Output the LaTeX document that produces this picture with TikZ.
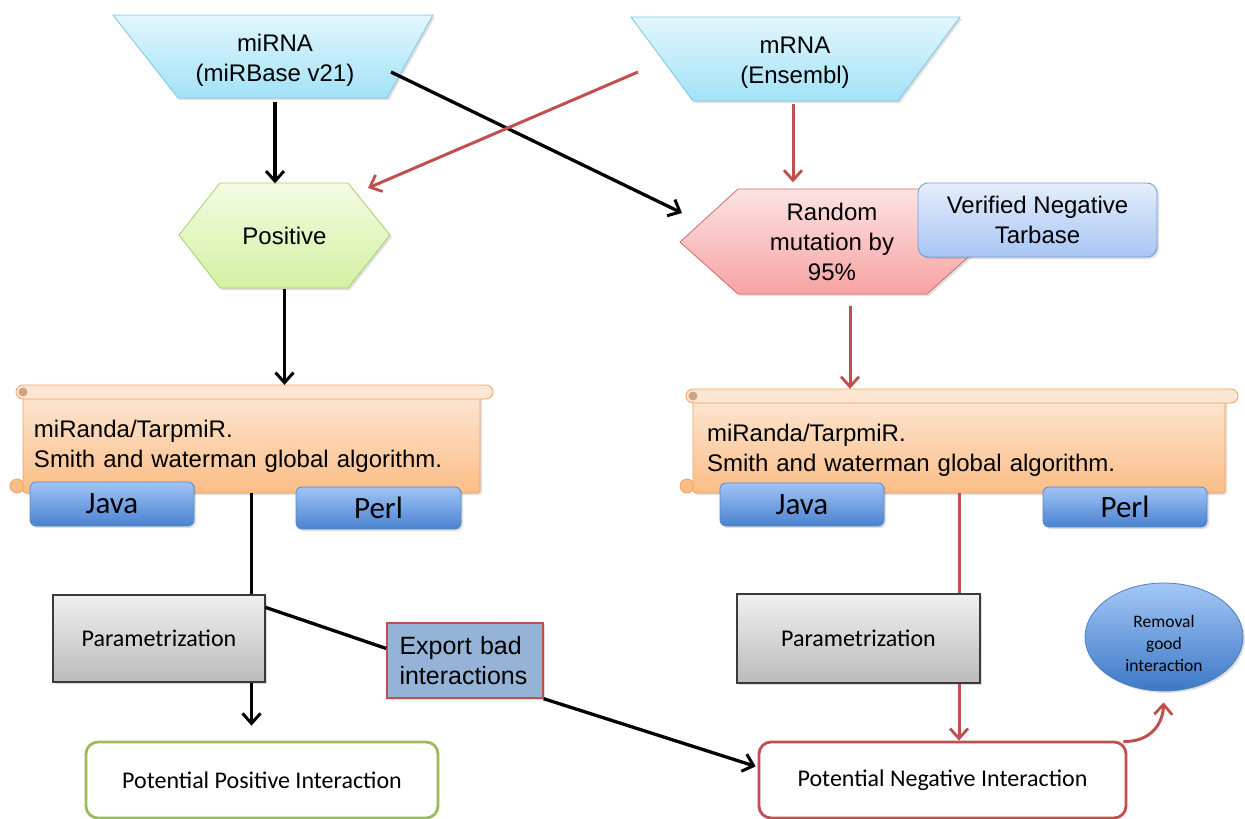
\documentclass[tikz,border=0pt]{standalone}
\usepackage{fontspec}
\setmainfont{Liberation Sans}
\newfontfamily\calfont{Carlito}
\usetikzlibrary{arrows.meta,shadows,calc,backgrounds,shapes.geometric}

\definecolor{redc}{HTML}{C0504D}
\definecolor{cyanT}{HTML}{E2F6FD}\definecolor{cyanB}{HTML}{A2E2F7}\definecolor{cyanD}{HTML}{7CC6DE}
\definecolor{grnT}{HTML}{F3FBE2}\definecolor{grnB}{HTML}{D3F1A2}\definecolor{grnD}{HTML}{A6CF6C}
\definecolor{pnkT}{HTML}{FDE3E3}\definecolor{pnkB}{HTML}{F7A3A3}\definecolor{pnkD}{HTML}{D06B6B}
\definecolor{verT}{HTML}{E5EEFC}\definecolor{verB}{HTML}{A7C5F4}\definecolor{verD}{HTML}{7099D6}
\definecolor{orT}{HTML}{FDE7D4}\definecolor{orB}{HTML}{FBBD86}\definecolor{orD}{HTML}{F2A05A}
\definecolor{jvT}{HTML}{A0C4F7}\definecolor{jvB}{HTML}{4A82CF}\definecolor{jvD}{HTML}{5A87C5}
\definecolor{prT}{HTML}{F0F0F0}\definecolor{prB}{HTML}{BBBBBB}\definecolor{prD}{HTML}{3A3A3A}
\definecolor{rmT}{HTML}{A4C8F6}\definecolor{rmB}{HTML}{3C78C6}\definecolor{rmD}{HTML}{4E7FBF}
\definecolor{expF}{HTML}{95B3D7}
\definecolor{posD}{HTML}{9BBB59}

\begin{document}
\begin{tikzpicture}[x=1pt,y=-1pt,
  lbl/.style={inner sep=0pt, align=center, font=\fontsize{24}{30}\selectfont},
  shade/.style={drop shadow={shadow xshift=2pt,shadow yshift=-2pt,opacity=0.25}},
  blk/.style={line width=3.3pt, black, -{Straight Barb[length=10pt,width=18pt,line width=3pt]}},
  blkline/.style={line width=3.3pt, black},
  red/.style={line width=3pt, redc, -{Straight Barb[length=10pt,width=18pt,line width=2.8pt]}},
  redline/.style={line width=3pt, redc},
  langbox/.style={draw=jvD, line width=0.8pt, rounded corners=6pt, top color=jvT, bottom color=jvB,
    shade, inner sep=0pt, font=\calfont\fontsize{31}{32}\selectfont},
  parbox/.style={draw=prD, line width=1.2pt, top color=prT, bottom color=prB, shade, inner sep=0pt,
    font=\calfont\fontsize{24}{28}\selectfont},
  resbox/.style={fill=white, line width=2.8pt, rounded corners=12pt, inner sep=0pt,
    font=\calfont\fontsize{24}{28}\selectfont, minimum height=76pt},
  scrolltext/.style={inner sep=0pt, align=left, font=\fontsize{24}{30}\selectfont}
]
\useasboundingbox (0,0) rectangle (1245,819);

% ---- input databases (trapezoids) ----
\path[draw=cyanD, line width=0.8pt, top color=cyanT, bottom color=cyanB, shade]
  (113,15) -- (433,15) -- (387,98) -- (178,98) -- cycle;
\node[lbl, minimum width=320pt, minimum height=83pt] (mirna) at (275,60) {miRNA\\(miRBase v21)};

\path[draw=cyanD, line width=0.8pt, top color=cyanT, bottom color=cyanB, shade]
  (631,17) -- (960,17) -- (898,101) -- (693,101) -- cycle;
\node[lbl, minimum width=329pt, minimum height=82pt] (mrna) at (795,63) {mRNA\\(Ensembl)};

% ---- positive set (hexagon) ----
\path[draw=grnD, line width=0.8pt, top color=grnT, bottom color=grnB, shade]
  (179,235) -- (220,183) -- (348,183) -- (390,235) -- (348,288) -- (220,288) -- cycle;
\node[lbl, minimum width=211pt, minimum height=105pt] (pos) at (284.5,236) {Positive};

% ---- negative set (hexagon) and Tarbase ----
\path[draw=pnkD, line width=0.8pt, top color=pnkT, bottom color=pnkB, shade]
  (680,242) -- (738,189) -- (927,189) -- (985,242) -- (927,294) -- (738,294) -- cycle;
\node[lbl, minimum width=305pt, minimum height=105pt] (rnd) at (832,242) {Random\\mutation by\\95\%};

\node[lbl, draw=verD, line width=0.8pt, rounded corners=10pt, top color=verT, bottom color=verB, shade,
  minimum width=239pt, minimum height=74pt] (ver) at (1037.5,220) {Verified Negative\\Tarbase};

% ---- alignment tools (scrolls) ----
% left scroll
\draw[orD, line width=0.8pt, fill=orB] (17,486) circle (7pt);
\path[draw=orD, line width=0.8pt, top color=orT, bottom color=orB, shade, rounded corners=3pt]
  (23,392) rectangle (480,493);
\draw[orD, line width=0.8pt, fill=orT, rounded corners=7pt] (16,385) rectangle (493,399);
\fill[orB!60!gray] (23,392) circle (4.5pt);
\fill[orB] (17,486) circle (4pt);
\node[inner sep=0pt, minimum width=457pt, minimum height=108pt] (scrollL) at (251.5,439) {};
\node[scrolltext, text width=435pt] (scrollLtxt) at (251.5,446)
  {miRanda/TarpmiR.\\Smith and waterman global algorithm.};

% right scroll
\draw[orD, line width=0.8pt, fill=orB] (687,486) circle (7pt);
\path[draw=orD, line width=0.8pt, top color=orT, bottom color=orB, shade, rounded corners=3pt]
  (693,396) rectangle (1225,493);
\draw[orD, line width=0.8pt, fill=orT, rounded corners=7pt] (686,389) rectangle (1238,403);
\fill[orB!60!gray] (693,396) circle (4.5pt);
\fill[orB] (687,486) circle (4pt);
\node[inner sep=0pt, minimum width=532pt, minimum height=104pt] (scrollR) at (959,441) {};
\node[scrolltext, text width=504pt] (scrollRtxt) at (959,450)
  {miRanda/TarpmiR.\\Smith and waterman global algorithm.};

% languages
\node[langbox, minimum width=164pt, minimum height=44pt] (javaL) at (112,504) {Java};
\node[langbox, minimum width=165pt, minimum height=42pt] (perlL) at (378.5,508) {Perl};
\node[langbox, minimum width=164pt, minimum height=43pt] (javaR) at (802,504.5) {Java};
\node[langbox, minimum width=164pt, minimum height=40pt] (perlR) at (1125,507) {Perl};

% ---- parametrization ----
\node[parbox, minimum width=212pt, minimum height=87pt] (paramL) at (159,638.5) {Parametrization};
\node[parbox, minimum width=243pt, minimum height=89pt] (paramR) at (858.5,638.5) {Parametrization};

\node[draw=redc, fill=expF, line width=1.4pt, shade, minimum width=156pt, minimum height=75pt,
  text width=131pt, align=left, inner sep=0pt, font=\fontsize{25}{30}\selectfont] (exp) at (465,660.5)
  {Export bad\\interactions};

% ---- results ----
\node[resbox, draw=posD, minimum width=352pt] (potpos) at (262,780) {Potential Positive Interaction};
\node[resbox, draw=redc, minimum width=367pt] (potneg) at (942.5,780) {Potential Negative Interaction};

\node[ellipse, draw=rmD, line width=0.8pt, top color=rmT, bottom color=rmB, shade,
  minimum width=158pt, minimum height=108pt, inner sep=0pt] (removal) at (1164,637) {};
\node[inner sep=0pt, align=center, font=\calfont\fontsize{17.5}{22}\selectfont] (removaltxt)
  at (1164,643) {Removal\\good\\interaction};

% ---- connectors ----
\coordinate (mirnaOut) at (391,72);
\coordinate (rndIn) at (682,213);
\coordinate (mrnaOut) at (638,72);
\coordinate (posIn) at (368,188);
\coordinate (rndOut) at ($(rnd.south)+(18,11)$);

\draw[blk] (mirna.south) -- (mirna.south |- pos.north);
\draw[blk] (mirnaOut) -- (rndIn);
\draw[red] (mrnaOut) -- (posIn);
\draw[red, shorten >=7pt] (mrna.south -| 793,0) -- (793,0 |- rnd.north);

\draw[blk] (pos.south) -- (pos.south |- scrollL.north);
\draw[red] (rndOut) -- (rndOut |- scrollR.north);

\draw[blkline] (scrollL.south) -- (scrollL.south |- paramL.north);
\draw[blk, shorten >=15pt] (scrollL.south |- paramL.south) -- (scrollL.south |- potpos.north);

\draw[redline] (scrollR.south) -- (scrollR.south |- paramR.north);
\draw[red] (scrollR.south |- paramR.south) -- (scrollR.south |- potneg.north);

\draw[blkline] ($(paramL.north east)+(0,13)$) -- ($(exp.west)+(0,-12)$);
\draw[blk, shorten >=2pt] (exp.south east) -- ($(potneg.west)+(0,-13)$);

\draw[red, shorten >=11pt] ($(potneg.north east)+(-4,1)$) .. controls +(30,0) and +(-1,30) .. (removal.south);

\end{tikzpicture}
\end{document}
